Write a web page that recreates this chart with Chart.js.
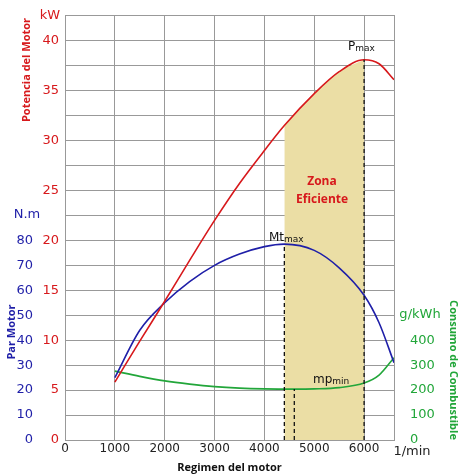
<!DOCTYPE html>
<html>
<head>
<meta charset="utf-8">
<script src="https://cdn.jsdelivr.net/npm/chart.js@4"></script>
<style>
  html, body { margin: 0; padding: 0; background: #fff; }
  #wrap { width: 474px; height: 474px; }
</style>
</head>
<body>
<div id="wrap"><canvas id="chart"></canvas></div>
<script>
// === Datos
const rpm        = [1000, 1500, 2000, 2500, 3000, 3500, 4000, 4400, 5000, 5500, 6000, 6300, 6600];
const potenciaKW = [5.8, 9.9, 13.9, 18.0, 22.0, 25.7, 29.0, 31.5, 34.7, 36.9, 38.1, 37.7, 36.1];
const parNm      = [25, 44, 55, 63.5, 70, 74.5, 77.5, 78.5, 76, 69, 58, 47, 31];
const consumoRpm = [1000, 1500, 2000, 2500, 3000, 3500, 4000, 4600, 5000, 5500, 6000, 6300, 6600];
const consumo    = [276, 255, 237, 224, 214, 208, 205, 204, 205, 210, 228, 260, 330];
const zonaRpm    = [4400, 5000, 5500, 6000];
const zonaKW     = [31.5, 34.7, 36.9, 38.1];
const xTicks     = [0, 1000, 2000, 3000, 4000, 5000, 6000];
const kwTicks    = [0, 5, 10, 15, 20, 25, 30, 35, 40];
const nmTicks    = [0, 10, 20, 30, 40, 50, 60, 70, 80];
const gTicks     = [0, 100, 200, 300, 400];

const RED = "#d7191c", BLUE = "#1f1fa8", GREEN = "#22a63a";
const pts = (xs, ys) => xs.map((x, i) => ({ x, y: ys[i] }));
const dash = (x, top) => ({
  data: [{ x, y: 0 }, { x, y: top }], yAxisID: "kw", borderColor: "#111",
  borderWidth: 1.3, borderDash: [4, 3], pointRadius: 0, order: 1
});

const labels = {
  id: "labels",
  afterDraw(c) {
    const g = c.ctx;
    const txt = (s, x, y, color, font, align, rot) => {
      g.save(); g.fillStyle = color; g.font = font; g.textAlign = align || "center";
      g.textBaseline = "middle"; g.translate(x, y); if (rot) g.rotate(rot);
      g.fillText(s, 0, 0); g.restore();
    };
    const f = "13px 'DejaVu Sans'";
    txt("kW", 50, 16, RED, f);
    txt("N.m", 27, 215, BLUE, f);
    txt("g/kWh", 420, 315, GREEN, f, "center");
    txt("1/min", 412, 452, "#222", f, "center");
    txt("Potencia del Motor", 27, 70, RED, "bold 11px 'Open Sans'", "center", -Math.PI / 2);
    txt("Par Motor", 12, 332, BLUE, "bold 11px 'Open Sans'", "center", -Math.PI / 2);
    txt("Consumo de Combustible", 453, 370, GREEN, "bold 11px 'Open Sans'", "center", Math.PI / 2);
    txt("Zona", 322, 182, RED, "bold 12px 'Open Sans'");
    txt("Eficiente", 322, 200, RED, "bold 12px 'Open Sans'");
    const sub = (a, b, x, y) => {
      g.save(); g.fillStyle = "#111"; g.textBaseline = "alphabetic"; g.textAlign = "left";
      g.font = "12px 'DejaVu Sans'"; g.fillText(a, x, y);
      const w = g.measureText(a).width;
      g.font = "9px 'DejaVu Sans'"; g.fillText(b, x + w, y + 1); g.restore();
    };
    sub("P", "max", 348, 50);
    sub("Mt", "max", 269, 241);
    sub("mp", "min", 313, 383);
  }
};

new Chart(document.getElementById("chart"), {
  type: "line",
  data: {
    datasets: [
      { data: pts(zonaRpm, zonaKW), yAxisID: "kw", borderWidth: 0, pointRadius: 0,
        fill: "origin", backgroundColor: "#ebdea5", cubicInterpolationMode: "monotone", order: 5 },
      { data: pts(rpm, potenciaKW), yAxisID: "kw", borderColor: RED, borderWidth: 1.6,
        pointRadius: 0, cubicInterpolationMode: "monotone", order: 2 },
      { data: pts(rpm, parNm), yAxisID: "nm", borderColor: BLUE, borderWidth: 1.6,
        pointRadius: 0, cubicInterpolationMode: "monotone", order: 2 },
      { data: pts(consumoRpm, consumo), yAxisID: "g", borderColor: GREEN, borderWidth: 1.6,
        pointRadius: 0, cubicInterpolationMode: "monotone", order: 2 },
      dash(4400, 78.5 / 4),
      dash(4600, 204 / 40),
      dash(6000, 38.1)
    ]
  },
  options: {
    responsive: true, maintainAspectRatio: false, animation: false,
    layout: { padding: { top: 15 } },
    plugins: { legend: { display: false }, tooltip: { enabled: false } },
    scales: {
      x: {
        type: "linear", min: 0, max: 6600,
        afterBuildTicks: a => { a.ticks = []; for (let v = 0; v <= 6500; v += 500) a.ticks.push({ value: v }); },
        ticks: { color: "#222", font: { size: 12, family: "DejaVu Sans" }, maxRotation: 0, padding: 2,
          callback: v => xTicks.includes(v) ? v : "" },
        grid: { color: "#999", drawTicks: false },
        border: { color: "#999" },
        title: { display: true, text: "Regimen del motor", color: "#111", padding: 0,
          font: { size: 11, weight: "bold", family: "Open Sans" } },
        afterFit: a => { a.height = 34; }
      },
      kw: {
        position: "left", min: 0, max: 42.5,
        afterBuildTicks: a => { a.ticks = []; for (let v = 0; v <= 42.5; v += 2.5) a.ticks.push({ value: v }); },
        ticks: { color: RED, font: { size: 13, family: "DejaVu Sans" }, padding: 6,
          callback: v => kwTicks.includes(v) ? v : "" },
        grid: { color: "#999", drawTicks: false },
        border: { color: "#999" },
        afterFit: a => { a.width = 23; }
      },
      nm: {
        position: "left", min: 0, max: 170,
        afterBuildTicks: a => { a.ticks = nmTicks.map(v => ({ value: v })); },
        ticks: { color: BLUE, font: { size: 13, family: "DejaVu Sans" }, padding: 1 },
        grid: { display: false }, border: { display: false },
        afterFit: a => { a.width = 42; }
      },
      g: {
        position: "right", min: 0, max: 1700,
        afterBuildTicks: a => { a.ticks = gTicks.map(v => ({ value: v })); },
        ticks: { color: GREEN, font: { size: 13, family: "DejaVu Sans" }, padding: 8 },
        grid: { display: false }, border: { color: "#999" },
        afterFit: a => { a.width = 80; }
      }
    }
  },
  plugins: [labels]
});
</script>
</body>
</html>
